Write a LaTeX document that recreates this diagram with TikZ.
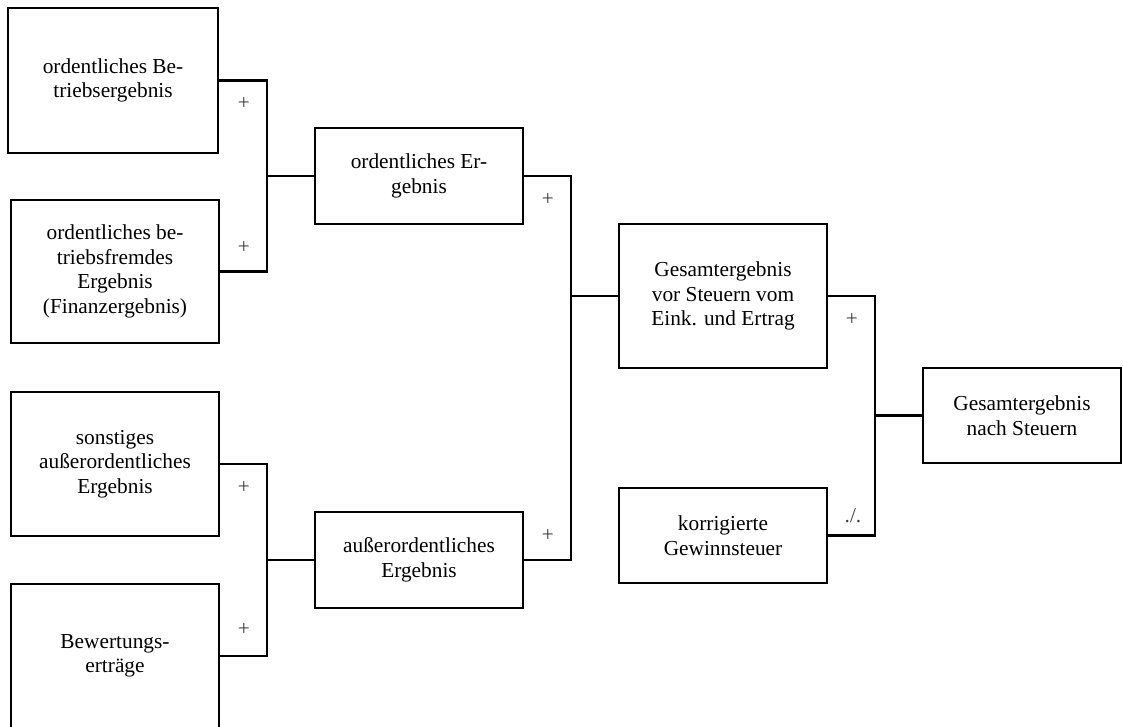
\documentclass[tikz,border=0pt]{standalone}
\usepackage{fontspec}
\setmainfont{Liberation Serif}
\begin{document}
\begin{tikzpicture}[x=0.75pt,y=-0.75pt,
  box/.style={draw, line width=1.6pt, rectangle, inner sep=0pt, align=center,
    font=\fontsize{16}{18.4}\selectfont},
  conn/.style={line width=1.6pt},
  sign/.style={inner sep=0pt, text=black!75, font=\fontsize{16}{18.4}\selectfont}]
\useasboundingbox (0,0) rectangle (1123,727);
% boxes
\node[box, minimum width=157.5pt, minimum height=108.75pt] (b1) at (113,80.5) {ordentliches Be-\\triebsergebnis};
\node[box, minimum width=156pt, minimum height=107.25pt] (b2) at (115,271.5) {ordentliches be-\\triebsfremdes\\Ergebnis\\(Finanzergebnis)};
\node[box, minimum width=156pt, minimum height=108pt] (b3) at (115,464) {sonstiges\\außerordentliches\\Ergebnis};
\node[box, minimum width=156pt, minimum height=108pt] (b4) at (115,656) {Bewertungs-\\erträge};
\node[box, minimum width=156pt, minimum height=72pt] (b5) at (419,176) {ordentliches Er-\\gebnis};
\node[box, minimum width=156pt, minimum height=72pt] (b6) at (419,560) {außerordentliches\\Ergebnis};
\node[box, minimum width=156pt, minimum height=108pt] (b7) at (723,296) {Gesamtergebnis\\vor Steuern vom\\Eink. und Ertrag};
\node[box, minimum width=156pt, minimum height=71.25pt] (b8) at (723,535.5) {korrigierte\\Gewinnsteuer};
\node[box, minimum width=148.5pt, minimum height=71.25pt] (b9) at (1022,415.5) {Gesamtergebnis\\nach Steuern};
% junctions
\coordinate (j1) at (267,176);
\coordinate (j2) at (571,296);
\coordinate (j3) at (875,415.5);
\coordinate (j4) at (267,560);
% connectors
\draw[conn] (b1.east) -| (j1) |- (b2.east);
\draw[conn] (j1) -- (b5.west);
\draw[conn] (b3.east) -| (j4) |- (b4.east);
\draw[conn] (j4) -- (b6.west);
\draw[conn] (b5.east) -| (j2) |- (b6.east);
\draw[conn] (j2) -- (b7.west);
\draw[conn] (b7.east) -| (j3) |- (b8.east);
\draw[conn] (j3) -- (b9.west);
% signs
\node[sign] (s1) at (244,103) {+};
\node[sign] (s2) at (244,247) {+};
\node[sign] (s3) at (244,487) {+};
\node[sign] (s4) at (244,629) {+};
\node[sign] (s5) at (548,199) {+};
\node[sign] (s6) at (548,535) {+};
\node[sign] (s7) at (852,319) {+};
\node[sign] (s8) at (853,516) {./.};
\end{tikzpicture}
\end{document}
